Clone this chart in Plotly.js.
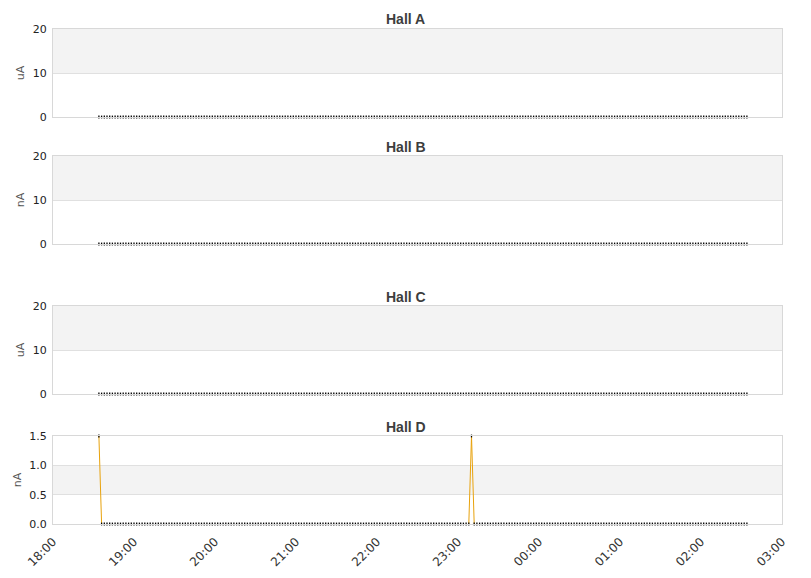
<!DOCTYPE html>
<html>
<head>
<meta charset="utf-8">
<script src="https://cdn.plot.ly/plotly-3.0.1.min.js"></script>
<style>
  html, body { margin: 0; padding: 0; background: #fff; }
  #chart { width: 811px; height: 578px; }
</style>
</head>
<body>
<div id="chart"></div>
<script>
// sampling of the beam current readings (one every 2 minutes)
const FIRST_SAMPLE = '2024-01-01T18:34:00';
const LAST_SAMPLE = '2024-01-02T02:34:00';
const STEP_MIN = 2;

const halls = ['Hall A', 'Hall B', 'Hall C', 'Hall D'];
const units = ['uA', 'nA', 'uA', 'nA'];
const yRanges = [[0, 20], [0, 20], [0, 20], [0, 1.5]];
const yTicks = [[0, 10, 20], [0, 10, 20], [0, 10, 20], [0, 0.5, 1, 1.5]];
const yTickText = [['0', '10', '20'], ['0', '10', '20'], ['0', '10', '20'], ['0.0', '0.5', '1.0', '1.5']];
const bands = [[10, 20], [10, 20], [10, 20], [0.5, 1.0]];

// every reading sits at 0 except these Hall D peaks
const baseReading = [0, 0, 0, 0];
const hallDPeakTimes = ['2024-01-01 18:34', '2024-01-01 23:10'];
const hallDPeakValues = [1.5, 1.5];

const xTickVals = ['2024-01-01 18:00', '2024-01-01 19:00', '2024-01-01 20:00', '2024-01-01 21:00',
  '2024-01-01 22:00', '2024-01-01 23:00', '2024-01-02 00:00', '2024-01-02 01:00',
  '2024-01-02 02:00', '2024-01-02 03:00'];
const xTickText = ['18:00', '19:00', '20:00', '21:00', '22:00', '23:00', '00:00', '01:00', '02:00', '03:00'];

function pad(n) {
  return n < 10 ? '0' + n : String(n);
}

function fmt(d) {
  return `${d.getFullYear()}-${pad(d.getMonth() + 1)}-${pad(d.getDate())} ${pad(d.getHours())}:${pad(d.getMinutes())}`;
}

const sampleTimes = [];
for (let t = new Date(FIRST_SAMPLE); t <= new Date(LAST_SAMPLE); t = new Date(t.getTime() + STEP_MIN * 60000)) {
  sampleTimes.push(fmt(t));
}

function hallValues(i) {
  return sampleTimes.map((t) => {
    if (i === 3) {
      const k = hallDPeakTimes.indexOf(t);
      if (k >= 0) return hallDPeakValues[k];
    }
    return baseReading[i];
  });
}

// orange line only where a reading or its neighbour rises above zero
function lineValues(vals) {
  return vals.map((v, j) => {
    const near = v !== 0 || (j > 0 && vals[j - 1] !== 0) || (j < vals.length - 1 && vals[j + 1] !== 0);
    return near ? v : null;
  });
}

// pixel layout of the four panels (top, bottom) inside the plot frame
const PLOT_TOP = 29;
const PLOT_BOTTOM = 524;
const panelPx = [[29, 117], [156, 244], [306, 394], [436, 524]];
const titlePx = [19, 147, 297, 427];
const H = PLOT_BOTTOM - PLOT_TOP;
const toPaper = (py) => (PLOT_BOTTOM - py) / H;

const traces = [];
const layout = {
  width: 811,
  height: 578,
  margin: { l: 53, r: 29, t: PLOT_TOP, b: 578 - PLOT_BOTTOM },
  paper_bgcolor: '#ffffff',
  plot_bgcolor: '#ffffff',
  showlegend: false,
  font: { family: 'DejaVu Sans, sans-serif', size: 11, color: '#333333' },
  shapes: [],
  annotations: [],
};

halls.forEach((name, i) => {
  const n = i + 1;
  const xa = n === 1 ? 'x' : 'x' + n;
  const ya = n === 1 ? 'y' : 'y' + n;
  const vals = hallValues(i);

  if (i === 3) {
    traces.push({
      type: 'scatter',
      mode: 'lines',
      x: sampleTimes,
      y: lineValues(vals),
      xaxis: xa,
      yaxis: ya,
      connectgaps: false,
      line: { color: '#e8a20c', width: 1 },
      hoverinfo: 'skip',
    });
  }
  traces.push({
    type: 'scatter',
    mode: 'markers',
    x: sampleTimes,
    y: vals,
    xaxis: xa,
    yaxis: ya,
    cliponaxis: false,
    marker: { color: '#000000', size: 2, symbol: 'line-ns', line: { width: 1.3, color: '#000000' } },
  });

  layout['xaxis' + (n === 1 ? '' : n)] = {
    type: 'date',
    anchor: ya,
    matches: n === 4 ? undefined : 'x4',
    range: ['2024-01-01 18:00', '2024-01-02 03:00'],
    tickvals: xTickVals,
    ticktext: xTickText,
    showticklabels: n === 4,
    tickangle: -45,
    ticklabelstandoff: 5,
    tickfont: { family: 'DejaVu Sans, sans-serif', size: 12, color: '#333333' },
    ticks: '',
    showgrid: false,
    zeroline: false,
    showline: true,
    mirror: true,
    linecolor: '#d8d8d8',
    linewidth: 1,
  };

  layout['yaxis' + (n === 1 ? '' : n)] = {
    anchor: xa,
    domain: [toPaper(panelPx[i][1]), toPaper(panelPx[i][0])],
    range: yRanges[i],
    tickvals: yTicks[i],
    ticktext: yTickText[i],
    ticks: '',
    ticklabelstandoff: 3,
    tickfont: { family: 'DejaVu Sans, sans-serif', size: 11, color: '#222222' },
    showgrid: true,
    gridcolor: '#e0e0e0',
    zeroline: false,
    showline: true,
    mirror: true,
    linecolor: '#d8d8d8',
    title: { text: units[i], standoff: 5, font: { family: 'DejaVu Sans, sans-serif', size: 11, color: '#555555' } },
  };

  layout.shapes.push({
    type: 'rect',
    xref: xa + ' domain',
    yref: ya,
    x0: 0,
    x1: 1,
    y0: bands[i][0],
    y1: bands[i][1],
    fillcolor: '#f3f3f3',
    line: { width: 0 },
    layer: 'below',
  });

  layout.annotations.push({
    text: '<b>' + name + '</b>',
    xref: 'paper',
    yref: 'paper',
    x: (405.5 - 53) / 729,
    y: toPaper(titlePx[i]),
    xanchor: 'center',
    yanchor: 'middle',
    showarrow: false,
    font: { family: 'Liberation Sans, Arial, sans-serif', size: 14, color: '#3d3d3d' },
  });
});

Plotly.newPlot('chart', traces, layout, { staticPlot: true, displayModeBar: false });
</script>
</body>
</html>
